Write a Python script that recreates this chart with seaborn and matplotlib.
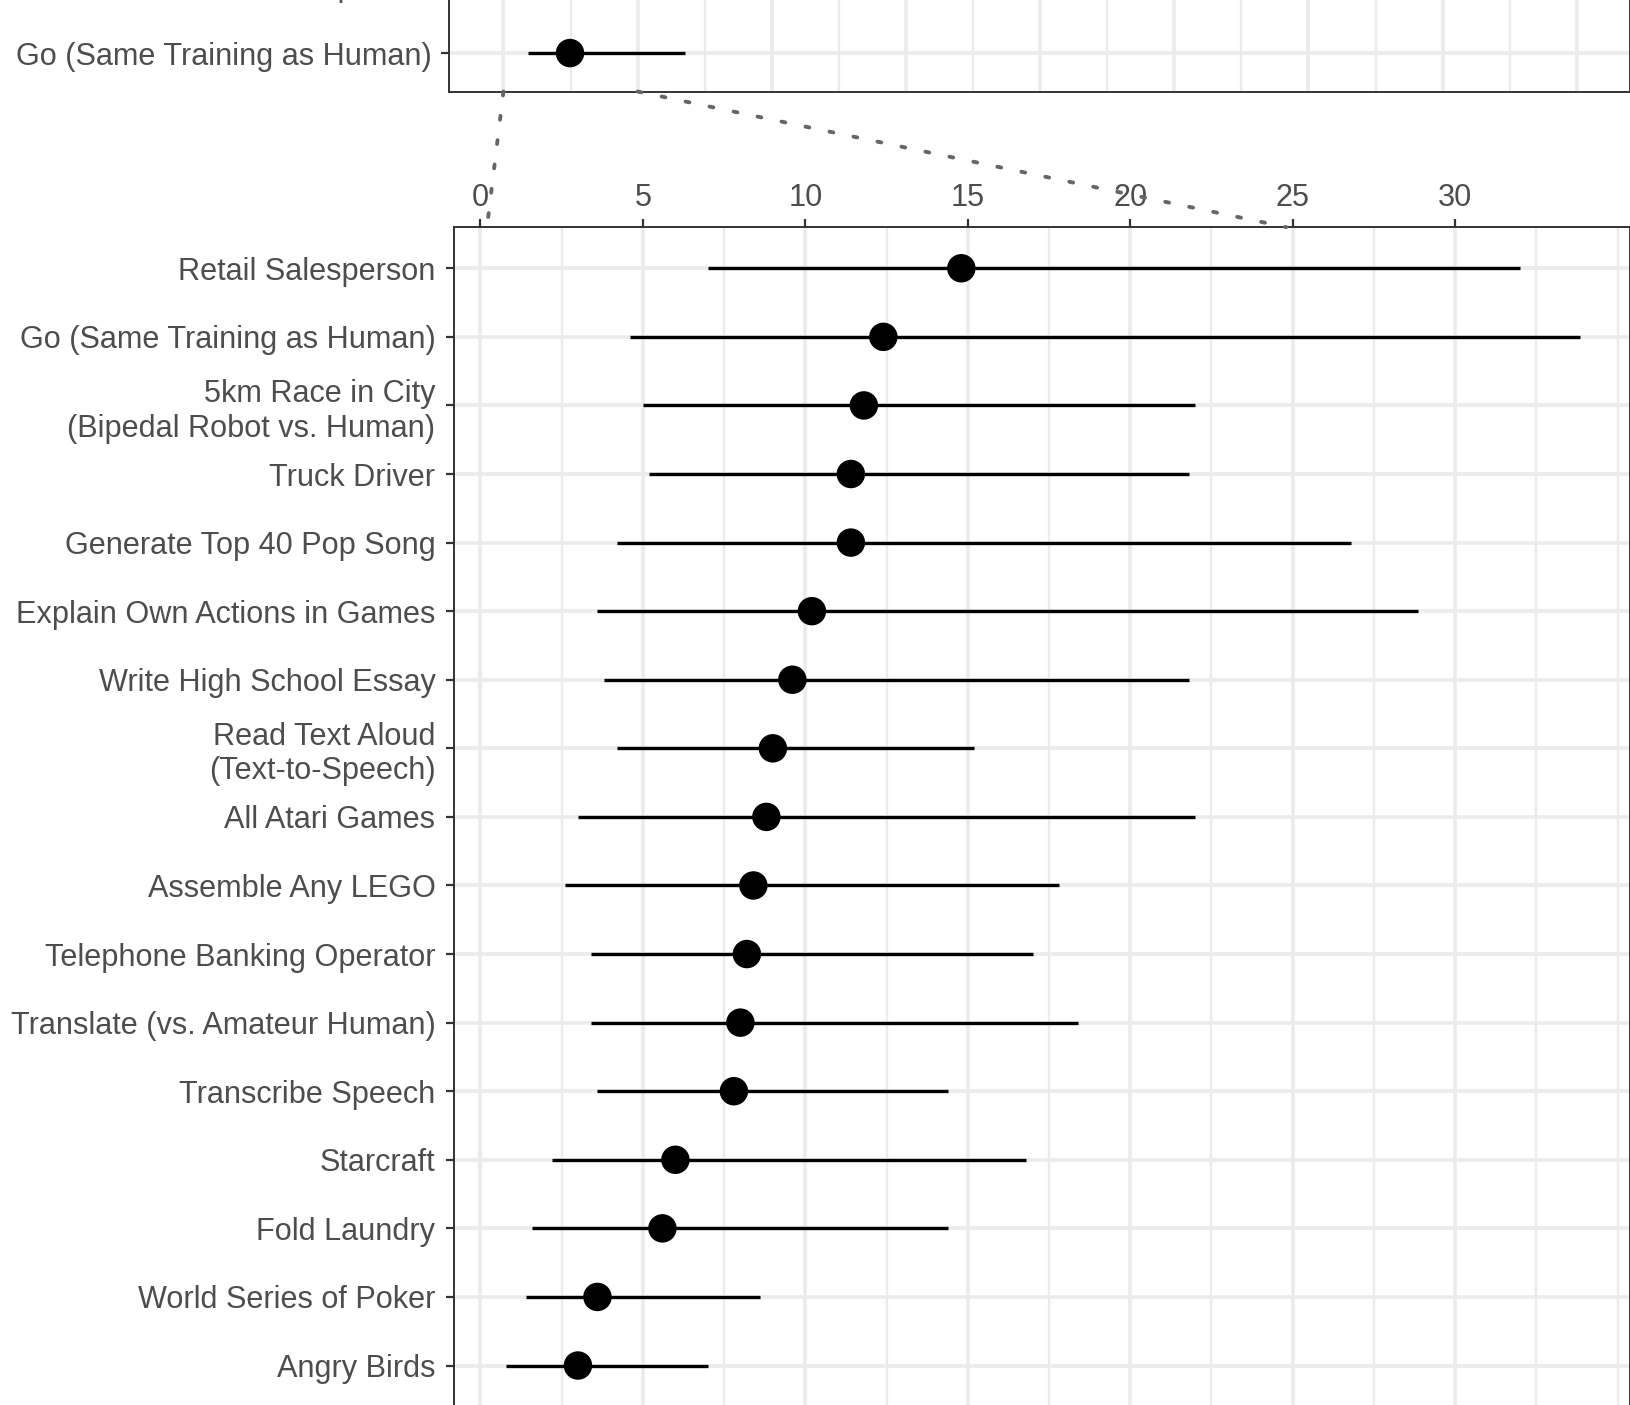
import numpy as np
import pandas as pd
import matplotlib
matplotlib.use("Agg")
import matplotlib.pyplot as plt
from matplotlib.patches import ConnectionPatch
import seaborn as sns

# ---------------- data ----------------
tasks = [
    "Retail Salesperson",
    "Go (Same Training as Human)",
    "5km Race in City\n(Bipedal Robot vs. Human)",
    "Truck Driver",
    "Generate Top 40 Pop Song",
    "Explain Own Actions in Games",
    "Write High School Essay",
    "Read Text Aloud\n(Text-to-Speech)",
    "All Atari Games",
    "Assemble Any LEGO",
    "Telephone Banking Operator",
    "Translate (vs. Amateur Human)",
    "Transcribe Speech",
    "Starcraft",
    "Fold Laundry",
    "World Series of Poker",
    "Angry Birds",
]
median_years = [14.8, 12.4, 11.8, 11.4, 11.4, 10.2, 9.6, 9.0, 8.8, 8.4, 8.2, 8.0, 7.8, 6.0, 5.6, 3.6, 3.0]
low_years = [7.0, 4.6, 5.0, 5.2, 4.2, 3.6, 3.8, 4.2, 3.0, 2.6, 3.4, 3.4, 3.6, 2.2, 1.6, 1.4, 0.8]
high_years = [32.0, 33.85, 22.0, 21.8, 26.8, 28.85, 21.8, 15.2, 22.0, 17.8, 17.0, 18.4, 14.4, 16.8, 14.4, 8.6, 7.0]

# visible part of the full-range (upper) panel
top_tasks = ["Retail Salesperson", "Go (Same Training as Human)"]
top_median = [14.8, 12.4]
top_low = [7.0, 4.6]
top_high = [32.0, 33.85]

x_ticks_bottom = [0, 5, 10, 15, 20, 25, 30]

# ---------------- style ----------------
sns.set_style("white")
plt.rcParams["font.family"] = ["Liberation Sans", "DejaVu Sans"]

W, H = 1568.0, 1351.0
fig = plt.figure(figsize=(16.31, 14.05), dpi=100)

GRID = "#EBEBEB"
BORDER = "#333333"
TXT = "#4D4D4D"
FS = 22.1

df = pd.DataFrame({"task": tasks, "mid": median_years, "lo": low_years, "hi": high_years})
df["pos"] = np.arange(len(df))
dft = pd.DataFrame({"task": top_tasks, "mid": top_median, "lo": top_low, "hi": top_high})
dft["pos"] = np.arange(len(dft))


def style_axes(ax):
    for s in ax.spines.values():
        s.set_visible(True)
        s.set_color(BORDER)
        s.set_linewidth(1.4)
    ax.set_axisbelow(True)


# ---------------- bottom (zoomed) panel ----------------
axb = fig.add_axes([436 / W, -1.6 / H, 1131 / W, (1352.6 - 218.4) / H])
style_axes(axb)
axb.hlines(df["pos"], df["lo"], df["hi"], color="black", lw=2.4, zorder=3)
sns.scatterplot(data=df, x="mid", y="pos", ax=axb, s=420, color="black",
                edgecolor="none", zorder=4, legend=False)
axb.set_xlim(-0.83, 35.38)
axb.set_ylim(len(df) - 1 + 0.6, -0.6)
axb.set_xticks(x_ticks_bottom)
axb.set_xticks([2.5, 7.5, 12.5, 17.5, 22.5, 27.5, 32.5, 35], minor=True)
axb.set_yticks(df["pos"])
axb.set_yticklabels(df["task"])
axb.xaxis.tick_top()
axb.xaxis.set_label_position("top")
axb.tick_params(axis="x", which="major", top=True, bottom=False, length=6, width=1.6,
                color=BORDER, labelsize=FS, labelcolor=TXT, pad=4)
axb.tick_params(axis="x", which="minor", top=False, bottom=False, length=0)
axb.tick_params(axis="y", which="major", left=True, length=6, width=1.6,
                color=BORDER, labelsize=FS, labelcolor=TXT, pad=7)
for lab in axb.get_yticklabels():
    lab.set_horizontalalignment("right")
    lab.set_multialignment("right")
    lab.set_linespacing(1.2)
axb.grid(True, which="major", color=GRID, lw=2.6)
axb.grid(True, which="minor", axis="x", color=GRID, lw=1.7)
axb.set_xlabel("")
axb.set_ylabel("")

# ---------------- top (full range) panel, mostly outside the crop ----------------
top_px = -55.0
axt = fig.add_axes([432 / W, 1 - 88 / H, 1135 / W, (88 - top_px) / H])
style_axes(axt)
axt.hlines(dft["pos"], dft["lo"], dft["hi"], color="black", lw=2.4, zorder=3)
sns.scatterplot(data=dft, x="mid", y="pos", ax=axt, s=420, color="black",
                edgecolor="none", zorder=4, legend=False)
axt.set_xlim(-10.08, 209.9)
unit = (88 - top_px) / 66.0
axt.set_ylim(1.56, 1.56 - unit)
axt.set_xticks(np.arange(0, 201, 25))
axt.set_xticks(np.arange(12.5, 201, 25), minor=True)
axt.set_yticks(dft["pos"])
axt.set_yticklabels(dft["task"])
axt.tick_params(axis="x", which="both", bottom=False, top=False, labelbottom=False, labeltop=False)
axt.tick_params(axis="y", which="major", left=True, length=6, width=1.6,
                color=BORDER, labelsize=FS, labelcolor=TXT, pad=7)
axt.grid(True, which="major", color=GRID, lw=2.6)
axt.grid(True, which="minor", axis="x", color=GRID, lw=1.7)
axt.set_xlabel("")
axt.set_ylabel("")

# ---------------- dotted zoom connectors ----------------
for xa, xb in [(0, 0.2), (25, 24.8)]:
    con = ConnectionPatch(xyA=(xa, axt.get_ylim()[0]), coordsA=axt.transData,
                          xyB=(xb, axb.get_ylim()[1]), coordsB=axb.transData,
                          color="#666666", lw=2.8, linestyle=(0, (1.0, 5.3)),
                          zorder=10)
    fig.add_artist(con)

fig.savefig("out.png", dpi=100)
